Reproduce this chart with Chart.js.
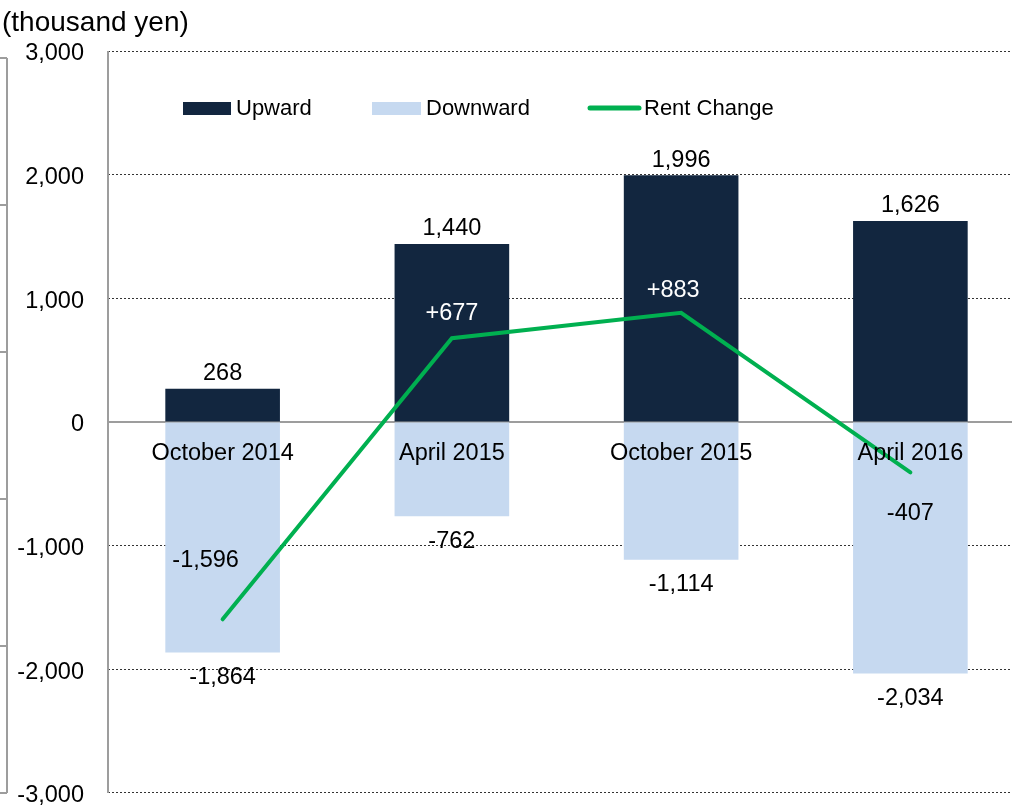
<!DOCTYPE html>
<html>
<head>
<meta charset="utf-8">
<script src="https://cdn.jsdelivr.net/npm/chart.js@4"></script>
<style>
  html, body { margin: 0; padding: 0; background: #fff; overflow: hidden; }
  #wrap { position: relative; width: 1012px; height: 808px; overflow: hidden; }
  canvas { position: absolute; left: 0; top: 0; }
</style>
</head>
<body>
<div id="wrap">
  <canvas id="rent" width="1025" height="831"></canvas>
</div>
<script>
const periods    = ['October 2014', 'April 2015', 'October 2015', 'April 2016'];
const upward     = [268, 1440, 1996, 1626];
const downward   = [-1864, -762, -1114, -2034];
const rentChange = [-1596, 677, 883, -407];
const yTicks     = [-3000, -2000, -1000, 0, 1000, 2000, 3000];

const FONT = "'Liberation Sans', Arial, sans-serif";
const NAVY = '#12263f';
const SKY  = '#c6d9f0';
const GREEN = '#00b050';
const EDGE = '#9d9d9d';

const fmt = (v) => v.toLocaleString('en-US');

/* ---------- labels, legend, misc text ---------- */
const decor = {
    id: 'decor',
    beforeDatasetsDraw(chart) {
        const { ctx, chartArea: a, scales: { y } } = chart;
        const y0 = y.getPixelForValue(0);
        ctx.save();
        ctx.strokeStyle = EDGE;
        ctx.lineWidth = 2;
        ctx.beginPath();
        ctx.moveTo(a.left, y0);
        ctx.lineTo(a.right, y0);
        // plot frame, left side
        ctx.moveTo(a.left, a.top);
        ctx.lineTo(a.left, a.bottom);
        ctx.stroke();
        ctx.restore();
    },
    afterDatasetsDraw(chart) {
        const { ctx, scales: { x, y } } = chart;
        const y0 = y.getPixelForValue(0);
        ctx.save();
        ctx.font = `23.5px ${FONT}`;
        ctx.textAlign = 'center';
        ctx.textBaseline = 'middle';
        ctx.fillStyle = '#000';

        // category names sit just under the zero line
        periods.forEach((p, i) => ctx.fillText(p, x.getPixelForValue(i), y0 + 32));

        // bar values
        upward.forEach((v, i) => ctx.fillText(fmt(v), x.getPixelForValue(i), y.getPixelForValue(v) - 15));
        downward.forEach((v, i) => ctx.fillText(fmt(v), x.getPixelForValue(i), y.getPixelForValue(v) + 25));

        // rent change values
        const shift = [[-17, -59], [0, -25], [-8, -22], [0, 41]];
        const ink   = ['#000', '#fff', '#fff', '#000'];
        rentChange.forEach((v, i) => {
            ctx.fillStyle = ink[i];
            const s = (v > 0 ? '+' : '') + fmt(v);
            ctx.fillText(s, x.getPixelForValue(i) + shift[i][0], y.getPixelForValue(v) + shift[i][1]);
        });

        // legend
        const ly = 108;
        ctx.font = `22px ${FONT}`;
        ctx.textAlign = 'left';
        ctx.fillStyle = NAVY;
        ctx.fillRect(183, ly - 6, 48, 13);
        ctx.fillStyle = SKY;
        ctx.fillRect(372, ly - 6, 49, 13);
        ctx.strokeStyle = GREEN;
        ctx.lineWidth = 5;
        ctx.lineCap = 'round';
        ctx.beginPath();
        ctx.moveTo(590, ly);
        ctx.lineTo(639, ly);
        ctx.stroke();
        ctx.fillStyle = '#000';
        ctx.fillText(chart.data.datasets[0].label, 236, ly + 1);
        ctx.fillText(chart.data.datasets[1].label, 426, ly + 1);
        ctx.fillText(chart.data.datasets[2].label, 644, ly + 1);
        ctx.restore();
    },
    afterDraw(chart) {
        const { ctx } = chart;
        ctx.save();
        ctx.font = `28px ${FONT}`;
        ctx.fillStyle = '#000';
        ctx.textBaseline = 'middle';
        ctx.fillText('(thousand yen)', 2, 23);

        // edge of the neighbouring panel on the left
        ctx.strokeStyle = EDGE;
        ctx.lineWidth = 2;
        ctx.beginPath();
        ctx.moveTo(7, 58);
        ctx.lineTo(7, 793);
        [58, 205, 352, 499, 646, 793].forEach(t => {
            ctx.moveTo(0, t);
            ctx.lineTo(7, t);
        });
        ctx.stroke();
        ctx.restore();
    }
};

new Chart(document.getElementById('rent'), {
    data: {
        labels: periods,
        datasets: [
            { type: 'bar', label: 'Upward', data: upward, backgroundColor: NAVY,
              grouped: false, barPercentage: 0.5, categoryPercentage: 1, order: 2 },
            { type: 'bar', label: 'Downward', data: downward, backgroundColor: SKY,
              grouped: false, barPercentage: 0.5, categoryPercentage: 1, order: 2 },
            { type: 'line', label: 'Rent Change', data: rentChange, borderColor: GREEN,
              borderWidth: 4, borderCapStyle: 'round', pointRadius: 0, tension: 0, order: 1 }
        ]
    },
    options: {
        responsive: false,
        animation: false,
        layout: { padding: { top: 51, bottom: 15, left: 0, right: 0 } },
        plugins: { legend: { display: false }, tooltip: { enabled: false } },
        scales: {
            x: { display: false, offset: true },
            y: {
                min: -3000, max: 3000,
                afterBuildTicks: (s) => { s.ticks = yTicks.map(v => ({ value: v })); },
                afterFit: (s) => { s.width = 108; },
                ticks: {
                    callback: (v) => fmt(v),
                    color: '#000',
                    padding: 24,
                    labelOffset: 3,
                    font: { family: FONT, size: 23.5 }
                },
                grid: {
                    drawTicks: false,
                    color: (c) => c.tick && c.tick.value === 0 ? 'rgba(0,0,0,0)' : '#333',
                    lineWidth: 1
                },
                border: { display: false, dash: [2, 2] }
            }
        }
    },
    plugins: [decor]
});
</script>
</body>
</html>
